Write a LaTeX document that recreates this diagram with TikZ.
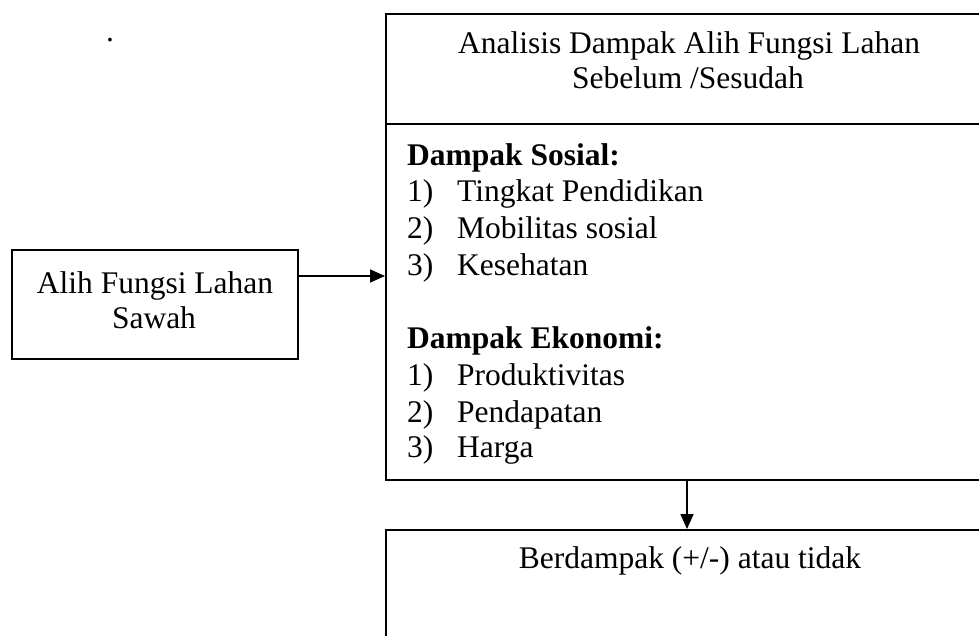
\documentclass[tikz,border=0pt]{standalone}
\usepackage{fontspec}
\setmainfont{Liberation Serif}
\usetikzlibrary{arrows.meta}
\begin{document}
\begin{tikzpicture}[x=1pt,y=-1pt,
  box/.style={draw, line width=1.7pt, rectangle, inner sep=0pt, anchor=north west},
  txt/.style={font=\fontsize{31.5}{36}\selectfont, inner sep=0pt, anchor=base},
  txtw/.style={txt, anchor=base west},
  arr/.style={line width=1.7pt, -{Triangle[length=15pt,width=13pt]}}]
\useasboundingbox (0,0) rectangle (979,635);
\clip (0,0) rectangle (979,635);
% boxes
\node[box, minimum width=608pt, minimum height=466pt] (big) at (385,13) {};
\node[box, minimum width=286pt, minimum height=109pt] (left) at (11,249) {};
\node[box, minimum width=608pt, minimum height=150pt] (bot) at (385,529) {};
\coordinate (divy) at (0,124);
\draw[line width=1.7pt] (big.west |- divy) -- (big.east |- divy);
% connectors
\coordinate (ay) at (0,276);
\coordinate (ax) at (687,0);
\draw[arr] (left.east |- ay) -- (big.west |- ay);
\draw[arr] (big.south -| ax) -- (bot.north -| ax);
% texts
\node[txt] (dot) at (110,41) {.};
\node[txt] (t1) at (689,53) {Analisis Dampak Alih Fungsi Lahan};
\node[txt] (t2) at (688,88) {Sebelum /Sesudah};
\node[txtw] (hs) at (407,165) {\bfseries Dampak Sosial:};
\node[txtw] (s1n) at (407,201) {1)};
\node[txtw] (s1) at (457,201) {Tingkat Pendidikan};
\node[txtw] (s2n) at (407,238) {2)};
\node[txtw] (s2) at (457,238) {Mobilitas sosial};
\node[txtw] (s3n) at (407,275) {3)};
\node[txtw] (s3) at (457,275) {Kesehatan};
\node[txtw] (he) at (407,348) {\bfseries Dampak Ekonomi:};
\node[txtw] (e1n) at (407,385) {1)};
\node[txtw] (e1) at (457,385) {Produktivitas};
\node[txtw] (e2n) at (407,422) {2)};
\node[txtw] (e2) at (457,422) {Pendapatan};
\node[txtw] (e3n) at (407,457) {3)};
\node[txtw] (e3) at (457,457) {Harga};
\node[txt] (l1) at (155,293) {Alih Fungsi Lahan};
\node[txt] (l2) at (154,328) {Sawah};
\node[txt] (b1) at (690,568) {Berdampak (+/-) atau tidak};
\end{tikzpicture}
\end{document}
